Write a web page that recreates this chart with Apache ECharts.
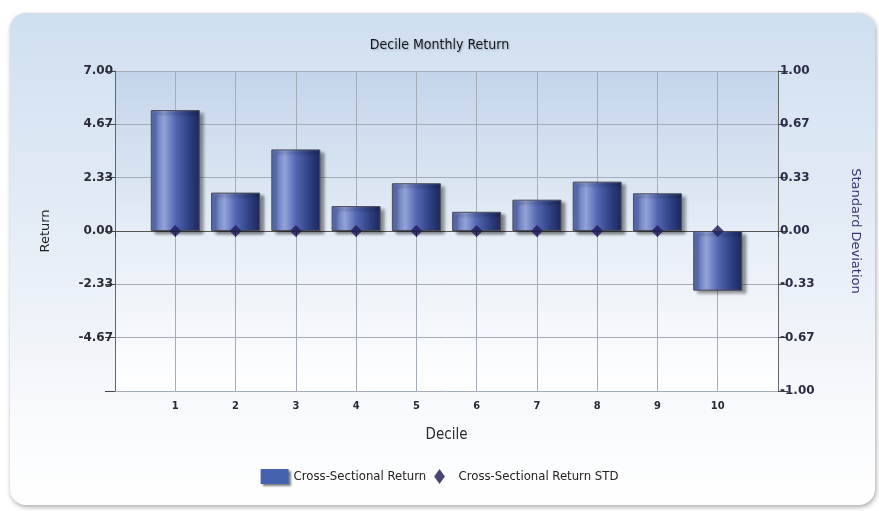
<!DOCTYPE html>
<html>
<head>
<meta charset="utf-8">
<script src="https://cdn.jsdelivr.net/npm/echarts@6/dist/echarts.min.js"></script>
<style>
  html, body { margin: 0; padding: 0; background: #fff; }
  #chart { width: 879px; height: 511px; }
</style>
</head>
<body>
<div id="chart"></div>
<script>
var deciles = ['1', '2', '3', '4', '5', '6', '7', '8', '9', '10'];
var returns = [5.29, 1.68, 3.57, 1.09, 2.09, 0.84, 1.37, 2.16, 1.65, -2.61];
var returnStd = [0, 0, 0, 0, 0, 0, 0, 0, 0, 0];
var leftTicks = { min: -7, max: 7, step: 7 / 3 };
var rightTicks = { min: -1, max: 1, step: 1 / 3 };

var myChart = echarts.init(document.getElementById('chart'));

var barData = deciles.map(function (d, i) { return [i + 1, returns[i]]; });
var stdData = deciles.map(function (d, i) { return [i + 1, returnStd[i]]; });

function fmt(v) {
    if (Math.abs(v) < 1e-9) return '0.00';
    return v.toFixed(2);
}

var barColor = new echarts.graphic.LinearGradient(0, 0, 1, 0, [
    { offset: 0, color: '#4a61ab' },
    { offset: 0.27, color: '#93a3d8' },
    { offset: 0.5, color: '#5367b2' },
    { offset: 0.8, color: '#2c3d7e' },
    { offset: 1, color: '#1c285b' }
]);

var narrow = 'DejaVu Sans Condensed, DejaVu Sans';

var option = {
    animation: false,
    graphic: [{
        type: 'rect',
        z: -100,
        shape: { x: 10, y: 13, width: 865, height: 492, r: 16 },
        style: {
            fill: new echarts.graphic.LinearGradient(0, 0, 0, 1, [
                { offset: 0, color: '#cfdff0' },
                { offset: 0.45, color: '#e5edf6' },
                { offset: 0.8, color: '#f7f9fc' },
                { offset: 1, color: '#ffffff' }
            ]),
            shadowBlur: 5,
            shadowOffsetY: 2,
            shadowOffsetX: 1,
            shadowColor: 'rgba(0,0,0,0.35)'
        }
    }],
    title: {
        text: 'Decile Monthly Return',
        left: 'center',
        top: 33,
        textStyle: {
            fontFamily: narrow,
            fontSize: 14,
            fontWeight: 'normal',
            color: '#14141e',
            textShadowColor: 'rgba(0,0,0,0.25)',
            textShadowBlur: 2,
            textShadowOffsetX: 1,
            textShadowOffsetY: 1
        }
    },
    legend: {
        bottom: 22,
        left: 'center',
        itemWidth: 28,
        itemHeight: 15,
        itemGap: 8,
        textStyle: {
            fontFamily: narrow,
            fontSize: 13,
            color: '#222'
        },
        data: [
            {
                name: 'Cross-Sectional Return',
                icon: 'rect',
                itemStyle: {
                    color: '#4462ae',
                    borderWidth: 0,
                    shadowColor: 'rgba(0,0,0,0.5)',
                    shadowBlur: 2,
                    shadowOffsetX: 2,
                    shadowOffsetY: 2
                }
            },
            {
                name: 'Cross-Sectional Return STD',
                icon: 'path://M5,0 L10,7 L5,14 L0,7 Z',
                itemStyle: { color: '#1c1650' }
            }
        ]
    },
    grid: {
        left: 115,
        right: 101,
        top: 71,
        bottom: 120,
        show: true,
        borderWidth: 0,
        backgroundColor: new echarts.graphic.LinearGradient(0, 0, 0, 1, [
            { offset: 0, color: '#c3d4ea' },
            { offset: 0.5, color: '#e5edf6' },
            { offset: 1, color: '#ffffff' }
        ])
    },
    xAxis: {
        type: 'value',
        min: 0,
        max: 11,
        interval: 1,
        name: 'Decile',
        nameLocation: 'middle',
        nameGap: 37,
        nameTextStyle: { fontFamily: narrow, fontSize: 15, color: '#2a2a2a' },
        axisLine: { lineStyle: { color: '#555' } },
        axisTick: { length: 6, lineStyle: { color: '#444' } },
        axisLabel: {
            fontFamily: narrow,
            fontWeight: 'bold',
            fontSize: 11,
            color: '#2a2a33',
            margin: 10,
            formatter: function (v) {
                return (v >= 1 && v <= deciles.length) ? deciles[v - 1] : '';
            }
        },
        splitLine: { show: true, lineStyle: { color: '#a4acb7' } }
    },
    yAxis: [{
        type: 'value',
        position: 'left',
        min: leftTicks.min,
        max: leftTicks.max,
        interval: leftTicks.step,
        name: 'Return',
        nameLocation: 'middle',
        nameGap: 63,
        nameRotate: 90,
        nameTextStyle: { fontFamily: 'DejaVu Sans', fontSize: 13, color: '#222' },
        axisLine: { show: true, lineStyle: { color: '#666' } },
        axisTick: { show: true, length: 10, lineStyle: { color: '#444' } },
        axisLabel: {
            fontFamily: 'DejaVu Sans',
            fontWeight: 'bold',
            fontSize: 12,
            color: '#2b2b38',
            margin: 2,
            formatter: function (v) { return v <= leftTicks.min + 1e-6 ? '' : fmt(v); }
        },
        splitLine: { show: true, lineStyle: { color: '#a4acb7' } }
    }, {
        type: 'value',
        position: 'right',
        min: rightTicks.min,
        max: rightTicks.max,
        interval: rightTicks.step,
        name: 'Standard Deviation',
        nameLocation: 'middle',
        nameGap: 71,
        nameRotate: -90,
        nameTextStyle: { fontFamily: 'DejaVu Sans', fontSize: 13, color: '#3a3372' },
        axisLine: { show: true, lineStyle: { color: '#666' } },
        axisTick: { show: true, length: 10, lineStyle: { color: '#444' } },
        axisLabel: {
            fontFamily: 'DejaVu Sans',
            fontWeight: 'bold',
            fontSize: 12,
            color: '#2b2b48',
            margin: 2,
            formatter: fmt
        },
        splitLine: { show: false }
    }],
    series: [{
        name: 'Cross-Sectional Return',
        type: 'bar',
        yAxisIndex: 0,
        barWidth: 49,
        data: barData,
        itemStyle: {
            color: barColor,
            borderColor: '#4d4d55',
            borderWidth: 1,
            shadowColor: 'rgba(0,0,0,0.45)',
            shadowBlur: 3,
            shadowOffsetX: 4,
            shadowOffsetY: 3
        }
    }, {
        name: 'Cross-Sectional Return STD',
        type: 'scatter',
        yAxisIndex: 1,
        symbol: 'diamond',
        symbolSize: [12, 12],
        z: 5,
        data: stdData,
        itemStyle: { color: '#221b5c' }
    }]
};

myChart.setOption(option);
</script>
</body>
</html>
